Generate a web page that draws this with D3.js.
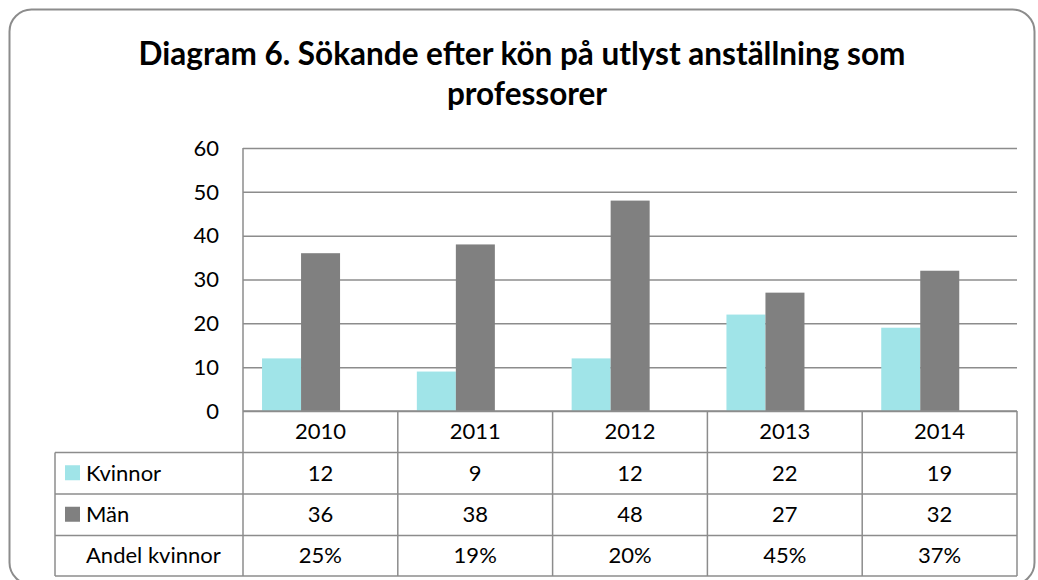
<!DOCTYPE html>
<html>
<head>
<meta charset="UTF-8"/>
<title>Diagram 6</title>
<script src="https://d3js.org/d3.v7.min.js"></script>
<style>
body { margin: 0; background: #fff; font-family: 'Lato', sans-serif; }
svg { display: block; }
text { fill: #000; }
.title { font-size: 31.5px; font-weight: 700; }
.tick-label, .cell { font-size: 22px; }
.grid line { stroke: #8c8c8c; stroke-width: 1.5; }
.tbl { stroke: #8c8c8c; stroke-width: 1.5; fill: none; }
</style>
</head>
<body>
<svg width="1038" height="580"></svg>
<script>
const years = ['2010', '2011', '2012', '2013', '2014'];
const kvinnor = [12, 9, 12, 22, 19];
const man = [36, 38, 48, 27, 32];
const andel = ['25%', '19%', '20%', '45%', '37%'];
const yTicks = [0, 10, 20, 30, 40, 50, 60];
const seriesNames = ['Kvinnor', 'Män'];
const colors = ['#a0e4e8', '#808080'];

const svg = d3.select('svg');

// rounded frame
svg.append('rect')
  .attr('x', 9.5).attr('y', 9.5)
  .attr('width', 1025).attr('height', 575)
  .attr('rx', 22)
  .attr('fill', 'none')
  .attr('stroke', '#8c8c8c')
  .attr('stroke-width', 2);

// title
const title = svg.append('text')
  .attr('class', 'title')
  .attr('text-anchor', 'middle');
title.append('tspan').attr('x', 522).attr('y', 65)
  .text('Diagram 6. Sökande efter kön på utlyst anställning som');
title.append('tspan').attr('x', 527).attr('y', 105)
  .text('professorer');

const plotL = 243, plotR = 1017, plotT = 148, plotB = 411;

const x = d3.scaleBand().domain(years).range([plotL, plotR]);
const bw = x.bandwidth();
const xInner = d3.scaleBand().domain(seriesNames).range([bw * 0.123, bw * 0.627]);
const y = d3.scaleLinear().domain([0, 60]).range([plotB, plotT]);

// gridlines
svg.append('g')
  .attr('class', 'grid')
  .attr('transform', `translate(${plotL},0)`)
  .call(d3.axisLeft(y).tickValues(yTicks).tickSize(-(plotR - plotL)).tickFormat(''))
  .call(g => g.select('.domain').remove());

// y labels
svg.append('g')
  .selectAll('text')
  .data(yTicks)
  .join('text')
  .attr('class', 'tick-label')
  .attr('x', 219)
  .attr('y', d => y(d))
  .attr('dy', '0.35em')
  .attr('text-anchor', 'end')
  .text(d => d);

// bars
const series = [kvinnor, man];
series.forEach((vals, i) => {
  svg.append('g')
    .selectAll('rect')
    .data(vals)
    .join('rect')
    .attr('x', (d, j) => x(years[j]) + xInner(seriesNames[i]))
    .attr('y', d => y(d))
    .attr('width', xInner.bandwidth())
    .attr('height', d => y(0) - y(d))
    .attr('fill', colors[i]);
});

// y axis line
svg.append('line').attr('class', 'tbl')
  .attr('x1', plotL).attr('x2', plotL).attr('y1', plotT).attr('y2', plotB);

// data table
const rowY = [411, 452.5, 494, 535.5, 576];
const tblLeft = 55;
const tbl = svg.append('g');

// horizontal lines
tbl.append('line').attr('class', 'tbl')
  .attr('x1', plotL).attr('x2', plotR).attr('y1', rowY[0]).attr('y2', rowY[0]);
rowY.slice(1).forEach(ry => {
  tbl.append('line').attr('class', 'tbl')
    .attr('x1', tblLeft).attr('x2', plotR).attr('y1', ry).attr('y2', ry);
});
// vertical lines
tbl.append('line').attr('class', 'tbl')
  .attr('x1', tblLeft).attr('x2', tblLeft).attr('y1', rowY[1]).attr('y2', rowY[4]);
years.concat(['end']).forEach((yr, j) => {
  const xx = j < years.length ? x(yr) : plotR;
  tbl.append('line').attr('class', 'tbl')
    .attr('x1', xx).attr('x2', xx).attr('y1', rowY[0]).attr('y2', rowY[4]);
});

const rows = [years, kvinnor, man, andel];
rows.forEach((vals, r) => {
  tbl.append('g')
    .selectAll('text')
    .data(vals)
    .join('text')
    .attr('class', 'cell')
    .attr('x', (d, j) => x(years[j]) + bw / 2)
    .attr('y', (rowY[r] + rowY[r + 1]) / 2)
    .attr('dy', '0.35em')
    .attr('text-anchor', 'middle')
    .text(d => d);
});

// row headers with legend keys
const headers = ['Kvinnor', 'Män', 'Andel kvinnor'];
headers.forEach((h, i) => {
  const cy = (rowY[i + 1] + rowY[i + 2]) / 2;
  if (i < 2) {
    tbl.append('rect')
      .attr('x', 65).attr('y', cy - 8)
      .attr('width', 15).attr('height', 15)
      .attr('fill', colors[i]);
  }
  tbl.append('text')
    .attr('class', 'cell')
    .attr('x', 86)
    .attr('y', cy)
    .attr('dy', '0.35em')
    .text(h);
});
</script>
</body>
</html>
